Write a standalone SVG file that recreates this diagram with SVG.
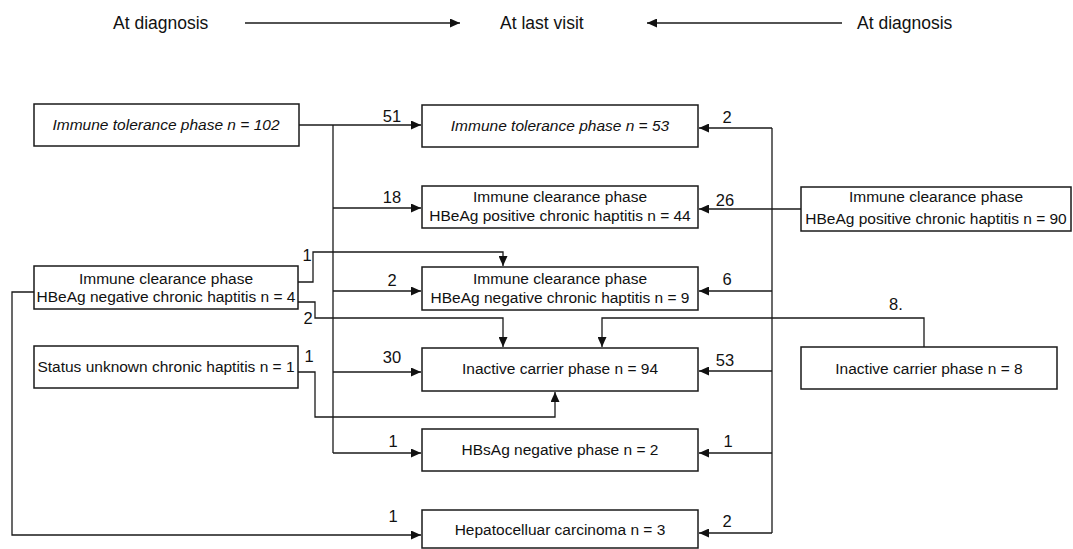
<svg xmlns="http://www.w3.org/2000/svg" width="1073" height="549" viewBox="0 0 1073 549">
<style>
.box{fill:#fff;stroke:#1a1a1a;stroke-width:1.5}
.t{font-family:"Liberation Sans",Arial,sans-serif;font-size:15.5px;fill:#111;text-anchor:middle}
.it{font-style:italic}
.hdr{font-family:"Liberation Sans",Arial,sans-serif;font-size:17.5px;fill:#111}
.lbl{font-family:"Liberation Sans",Arial,sans-serif;font-size:16.5px;fill:#111;text-anchor:middle}
.c{fill:none;stroke:#1a1a1a;stroke-width:1.3}
.a{marker-end:url(#ah)}
</style>
<defs>
<marker id="ah" markerUnits="userSpaceOnUse" markerWidth="11" markerHeight="9" refX="10" refY="4.5" orient="auto">
<path d="M0,0 L10,4.5 L0,9 Z" fill="#111"/>
</marker>
</defs>
<rect width="1073" height="549" fill="#fff"/>

<g id="header">
<text class="hdr" x="113" y="29">At diagnosis</text>
<text class="hdr" x="500" y="29">At last visit</text>
<text class="hdr" x="857" y="29">At diagnosis</text>
</g>

<g id="connectors">
<path class="c" d="M245,23 H460" marker-end="url(#ah)"/>
<path class="c" d="M842,23 H647" marker-end="url(#ah)"/>
<!-- left trunk from immune tolerance 102 -->
<path class="c a" d="M299,125 H421"/>
<path class="c" d="M333,125 V453"/>
<path class="c a" d="M333,208 H421"/>
<path class="c a" d="M333,291 H421"/>
<path class="c a" d="M333,372 H421"/>
<path class="c a" d="M333,453 H421"/>
<!-- from HBeAg negative n=4 -->
<path class="c a" d="M298,282 H313 V252 H503 V266"/>
<path class="c a" d="M298,302 H315 V318 H503 V347"/>
<path class="c a" d="M34,292 H12 V535 H421"/>
<!-- from status unknown -->
<path class="c a" d="M298,372 H315 V417 H555 V392"/>
<!-- right trunk from HBeAg positive n=90 -->
<path class="c a" d="M801,209 H699"/>
<path class="c" d="M772,128 V533"/>
<path class="c a" d="M772,128 H699"/>
<path class="c a" d="M772,291 H699"/>
<path class="c a" d="M772,371 H699"/>
<path class="c a" d="M772,453 H699"/>
<path class="c a" d="M772,533 H699"/>
<!-- from inactive carrier n=8 -->
<path class="c a" d="M924,347 V318 H602 V347"/>
</g>

<g id="labels">
<text class="lbl" x="392" y="122">51</text>
<text class="lbl" x="392" y="203">18</text>
<text class="lbl" x="392" y="286">2</text>
<text class="lbl" x="392" y="363">30</text>
<text class="lbl" x="393" y="447">1</text>
<text class="lbl" x="393" y="522">1</text>
<text class="lbl" x="727" y="123">2</text>
<text class="lbl" x="725" y="206">26</text>
<text class="lbl" x="727" y="285">6</text>
<text class="lbl" x="725" y="366">53</text>
<text class="lbl" x="728" y="447">1</text>
<text class="lbl" x="727" y="527">2</text>
<text class="lbl" x="307" y="261">1</text>
<text class="lbl" x="308" y="324">2</text>
<text class="lbl" x="309" y="362">1</text>
<text class="lbl" x="896" y="310">8.</text>
</g>

<g id="left-tolerance">
<rect class="box" x="34" y="104" width="265" height="42"/>
<text class="t it" x="166" y="130">Immune tolerance phase n = 102</text>
</g>
<g id="left-clearance-neg">
<rect class="box" x="34" y="266" width="264" height="43"/>
<text class="t" x="166" y="284">Immune clearance phase</text>
<text class="t" x="166" y="302">HBeAg negative chronic haptitis n = 4</text>
</g>
<g id="left-unknown">
<rect class="box" x="34" y="346" width="264" height="42"/>
<text class="t" x="166" y="372">Status unknown chronic haptitis n = 1</text>
</g>

<g id="mid-tolerance">
<rect class="box" x="422" y="105" width="276" height="42"/>
<text class="t it" x="560" y="131">Immune tolerance phase n = 53</text>
</g>
<g id="mid-clearance-pos">
<rect class="box" x="422" y="186" width="276" height="42"/>
<text class="t" x="560" y="202">Immune clearance phase</text>
<text class="t" x="560" y="221">HBeAg positive chronic haptitis n = 44</text>
</g>
<g id="mid-clearance-neg">
<rect class="box" x="422" y="267" width="276" height="43"/>
<text class="t" x="560" y="284">Immune clearance phase</text>
<text class="t" x="560" y="303">HBeAg negative chronic haptitis n = 9</text>
</g>
<g id="mid-inactive">
<rect class="box" x="422" y="348" width="276" height="43"/>
<text class="t" x="560" y="374">Inactive carrier phase n = 94</text>
</g>
<g id="mid-hbsag">
<rect class="box" x="422" y="429" width="276" height="42"/>
<text class="t" x="560" y="455">HBsAg negative phase n = 2</text>
</g>
<g id="mid-hcc">
<rect class="box" x="422" y="510" width="276" height="38"/>
<text class="t" x="560" y="535">Hepatocelluar carcinoma n = 3</text>
</g>

<g id="right-clearance-pos">
<rect class="box" x="801" y="187" width="270" height="44"/>
<text class="t" x="936" y="202">Immune clearance phase</text>
<text class="t" x="936" y="224">HBeAg positive chronic haptitis n = 90</text>
</g>
<g id="right-inactive">
<rect class="box" x="801" y="347" width="256" height="42"/>
<text class="t" x="929" y="374">Inactive carrier phase n = 8</text>
</g>
</svg>
